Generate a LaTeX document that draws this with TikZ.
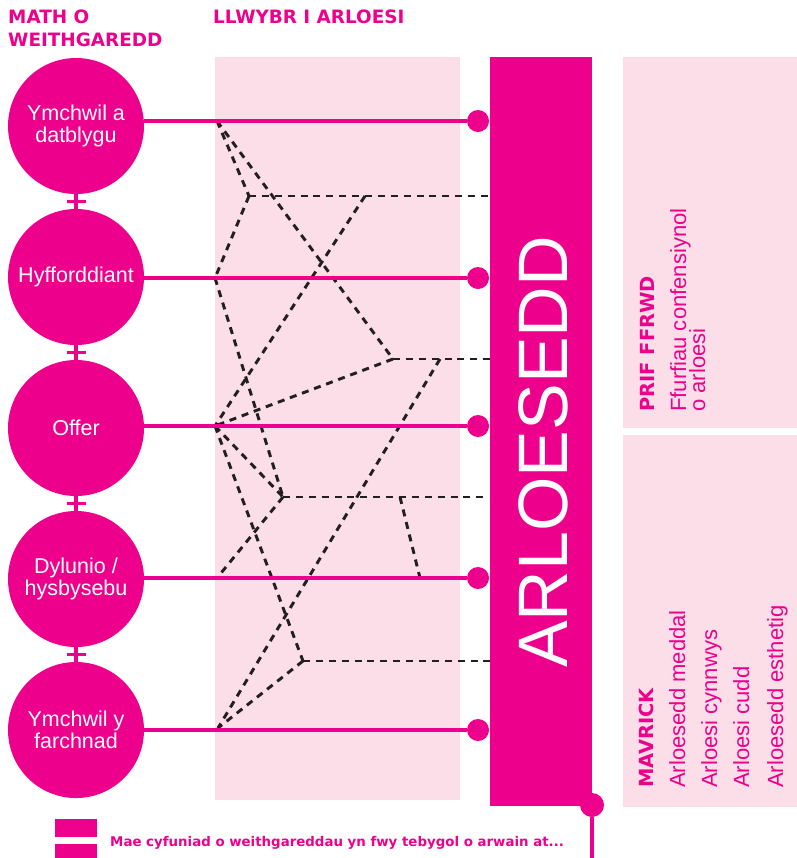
\documentclass[tikz,border=0pt]{standalone}
\usepackage{fontspec}
\setmainfont{Liberation Sans}
\newfontfamily\headfont{DejaVu Sans}
\usetikzlibrary{shapes.geometric, positioning}
\definecolor{mpink}{HTML}{EC008C}
\definecolor{palepink}{HTML}{FBDEE8}
\definecolor{dashgrey}{HTML}{231F20}
\tikzstyle{activity} = [circle, fill=mpink, text=white, minimum size=4.08cm, inner sep=0pt, align=center, font=\fontsize{18.35pt}{19.2pt}\selectfont]
\tikzstyle{dot} = [circle, fill=mpink, minimum size=0.66cm, inner sep=0pt]
\tikzstyle{enddot} = [circle, fill=mpink, minimum size=0.72cm, inner sep=0pt]
\tikzstyle{link} = [draw=mpink, line width=2.6pt]
\tikzstyle{crossbar} = [rectangle, fill=mpink, minimum width=0.57cm, minimum height=2.6pt, inner sep=0pt]
\tikzstyle{route} = [draw=dashgrey, line width=2.5pt, dash pattern=on 6pt off 5pt]
\tikzstyle{eqbar} = [rectangle, fill=mpink, minimum width=1.26cm, minimum height=0.54cm, inner sep=0pt]
\tikzstyle{heading} = [anchor=base west, inner sep=0pt, text=mpink, font=\headfont\bfseries\fontsize{15.7pt}{15.7pt}\selectfont]
\tikzstyle{sidehead} = [rotate=90, anchor=base west, inner sep=0pt, text=mpink, font=\headfont\bfseries\fontsize{16.6pt}{16.6pt}\selectfont]
\tikzstyle{sidetext} = [rotate=90, anchor=base west, inner sep=0pt, text=mpink, font=\fontsize{18.8pt}{19pt}\selectfont]
\tikzstyle{legendtext} = [anchor=base west, inner sep=0pt, text=mpink, font=\headfont\bfseries\fontsize{11.4pt}{11.4pt}\selectfont]

\begin{document}
\begin{tikzpicture}[x=0.03cm, y=-0.03cm, node distance=4.53cm]
    \useasboundingbox (0,0) rectangle (797,858);

    % Panels
    \fill [palepink] (215,57) rectangle (460,800);
    \fill [palepink] (623,57) rectangle (797,428);
    \fill [palepink] (623,435) rectangle (797,807);

    % Headings
    \node (hdtype) [heading] at (8,23) {MATH O};
    \node (hdtype2) [heading] at (8,46) {WEITHGAREDD};
    \node (hdpath) [heading] at (213,23) {LLWYBR I ARLOESI};

    % Route points
    \coordinate (a) at (217,121);
    \coordinate (b) at (249,196);
    \coordinate (c) at (365,196);
    \coordinate (d) at (215,278);
    \coordinate (e) at (393,359);
    \coordinate (f) at (440,359);
    \coordinate (g) at (215,426);
    \coordinate (h) at (283,497);
    \coordinate (i) at (400,497);
    \coordinate (j) at (217,578);
    \coordinate (k) at (420,578);
    \coordinate (l) at (303,661);
    \coordinate (m) at (218,728);

    % Innovation bar
    \node (bar) [rectangle, fill=mpink, minimum width=3.06cm, minimum height=22.47cm, inner sep=0pt] at (541,431.5) {};

    % Dashed routes
    \draw [route] (a) -- (b);
    \draw [route] (a) -- (e);
    \draw [route] (b) -- (b -| bar.west);
    \draw [route] (b) -- (d);
    \draw [route] (c) -- (g);
    \draw [route] (d) -- (h);
    \draw [route] (e) -- (e -| bar.west);
    \draw [route] (f) -- (m);
    \draw [route] (e) -- (g);
    \draw [route] (g) -- (h);
    \draw [route] (g) -- (l);
    \draw [route] (h) -- (483,497);
    \draw [route] (h) -- (j);
    \draw [route] (i) -- (k);
    \draw [route] (l) -- (l -| bar.west);
    \draw [route] (l) -- (m);

    % Activities
    \node (rd) [activity] at (76,126) {Ymchwil a\\datblygu};
    \node (train) [activity, below of=rd] {Hyfforddiant};
    \node (tools) [activity, below of=train] {Offer};
    \node (design) [activity, below of=tools] {Dylunio /\\hysbysebu};
    \node (market) [activity, below of=design] {Ymchwil y\\farchnad};

    % Dots
    \node (dotrd) [dot] at (478,121) {};
    \node (dottrain) [dot] at (478,278) {};
    \node (dottools) [dot] at (478,426) {};
    \node (dotdesign) [dot] at (478,578) {};
    \node (dotmarket) [dot] at (478,730) {};

    % Links
    \draw [link] (rd.east |- dotrd) -- (dotrd);
    \draw [link] (train.east |- dottrain) -- (dottrain);
    \draw [link] (tools.east |- dottools) -- (dottools);
    \draw [link] (design.east |- dotdesign) -- (dotdesign);
    \draw [link] (market.east |- dotmarket) -- (dotmarket);

    % Joints
    \draw [link] (rd) -- (train) node[crossbar, midway] {};
    \draw [link] (train) -- (tools) node[crossbar, midway] {};
    \draw [link] (tools) -- (design) node[crossbar, midway] {};
    \draw [link] (design) -- (market) node[crossbar, midway] {};

    \node (innov) [rotate=90, text=white, inner sep=0pt, font=\fontsize{59.75pt}{60pt}\selectfont] at (543.5,452) {ARLOESEDD};

    % End of bar
    \node (barend) [enddot] at (592,805) {};
    \coordinate (barfoot) at (592,860);
    \draw [link] (barend) -- (barfoot);

    % Side panels
    \node (mainhd) [sidehead] at (654,412) {PRIF FFRWD};
    \node (main1) [sidetext] at (686,412) {Ffurfiau confensiynol};
    \node (main2) [sidetext] at (705,412) {o arloesi};
    \node (mavhd) [sidehead] at (653,788) {MAVRICK};
    \node (mav1) [sidetext] at (685,788) {Arloesedd meddal};
    \node (mav2) [sidetext] at (717,788) {Arloesi cynnwys};
    \node (mav3) [sidetext] at (749,788) {Arloesi cudd};
    \node (mav4) [sidetext] at (783,788) {Arloesedd esthetig};

    % Legend
    \node (eqtop) [eqbar] at (76,828) {};
    \node (eqbot) [eqbar] at (76,853) {};
    \node (legend) [legendtext] at (110,846) {Mae cyfuniad o weithgareddau yn fwy tebygol o arwain at...};

\end{tikzpicture}
\end{document}
